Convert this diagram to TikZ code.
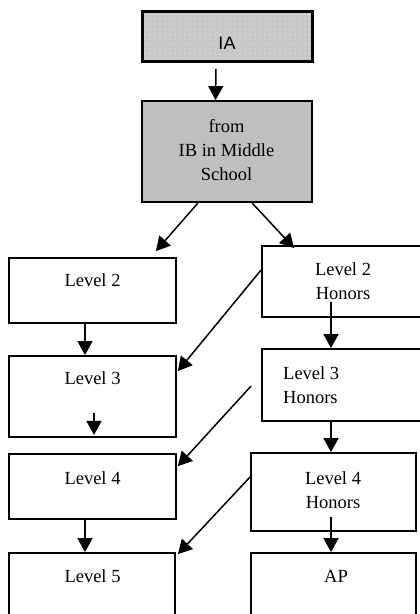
\documentclass[tikz,border=0pt]{standalone}
\usepackage{fontspec}
\setmainfont{Liberation Serif}
\newfontfamily\iafont{Liberation Sans}
\usetikzlibrary{arrows.meta,patterns.meta}
\begin{document}
\begin{tikzpicture}[x=1pt,y=-1pt,
  box/.style={draw=black, line width=1.8pt, inner sep=0pt, minimum width=#1},
  box/.default=167pt,
  txt/.style={font=\fontsize{18.5}{24}\selectfont, inner sep=0pt, align=center},
  arr/.style={line width=1.5pt, -{Triangle[length=14pt,width=15pt]}}]
\useasboundingbox (0,0) rectangle (420,614);
% boxes
\node[box=169pt, minimum height=49pt, fill=gray!44] (ia) at (227.5,36.5) {};
\fill[pattern={Dots[distance=5pt,radius=0.55pt]}, pattern color=white!85!gray]
  ([shift={(1pt,-1pt)}]ia.north west) rectangle ([shift={(-1pt,1pt)}]ia.south east);
\draw[line width=1.8pt] (ia.north west) rectangle (ia.south east);
\node[box=170pt, minimum height=101pt, fill=gray!50] (big) at (227,151.5) {};
\node[box, minimum height=65pt] (l2) at (92.5,290.5) {};
\node[box=168pt, minimum height=71pt] (l2h) at (346,281.5) {};
\node[box, minimum height=81pt] (l3) at (92.5,396.5) {};
\node[box=168pt, minimum height=72pt] (l3h) at (346,385) {};
\node[box, minimum height=65pt] (l4) at (92.5,486.5) {};
\node[box=165pt, minimum height=78pt] (l4h) at (333.5,492) {};
\node[box=166pt, minimum height=87pt] (l5) at (92,596.5) {};
\node[box=165pt, minimum height=87pt] (ap) at (333.5,596.5) {};
% texts
\node[inner sep=0pt, font=\iafont\fontsize{18}{22}\selectfont] (iat) at (227,43) {IA};
\node[txt] (bigt) at (226.5,150) {from\\IB in Middle\\School};
\node[txt] (l2t) at (92.5,280) {Level 2};
\node[txt] (l2ht) at (343,281) {Level 2\\Honors};
\node[txt] (l3t) at (92.5,378) {Level 3};
\node[txt, align=left, anchor=west] (l3ht) at (283,385) {Level 3\\Honors};
\node[txt] (l4t) at (92.5,478) {Level 4};
\node[txt] (l4ht) at (333,490) {Level 4\\Honors};
\node[txt] (l5t) at (92.5,576) {Level 5};
\node[txt] (apt) at (336,576) {AP};
% arrows
\draw[arr] ([shift={(-11.5pt,-7pt)}]ia.south) -- ([xshift=-11.5pt]big.north);
\draw[arr] ([xshift=-29pt]big.south) -- ([shift={(-21pt,6pt)}]l2.north east);
\draw[arr] ([xshift=25pt]big.south) -- ([shift={(33pt,-3pt)}]l2h.north west);
\draw[arr] ([xshift=-7.5pt]l2.south) -- ([xshift=-7.5pt]l3.north);
\draw[arr] ([yshift=11.5pt]l2h.west) -- ([shift={(1pt,-16pt)}]l3.north east);
\draw[arr] ([shift={(1.5pt,25pt)}]l3.south) -- ([shift={(1.5pt,3pt)}]l3.south);
\draw[arr] ([shift={(-15pt,16pt)}]l2h.south) -- ([xshift=-15pt]l3h.north);
\draw[arr] ([shift={(-10pt,-1pt)}]l3h.west) -- ([shift={(1pt,-13pt)}]l4.north east);
\draw[arr] ([xshift=-15pt]l3h.south) -- ([xshift=-2.5pt]l4h.north);
\draw[arr] ([xshift=-7.5pt]l4.south) -- ([xshift=-7pt]l5.north);
\draw[arr] ([shift={(-2.5pt,15pt)}]l4h.south) -- ([xshift=-2.5pt]ap.north);
\draw[arr] ([yshift=15pt]l4h.west) -- ([shift={(2pt,-2pt)}]l5.north east);
\end{tikzpicture}
\end{document}
